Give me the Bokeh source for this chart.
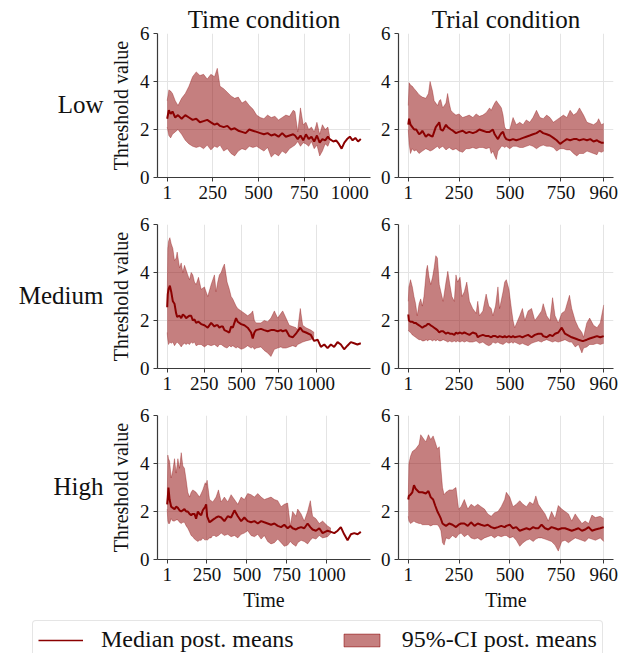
from bokeh.plotting import figure
from bokeh.layouts import column, row
from bokeh.models import Range1d, FixedTicker, Legend, LegendItem, ColumnDataSource
from bokeh.core.properties import value
from bokeh.embed import file_html
from bokeh.resources import INLINE

FONT = "Liberation Serif"
DARK = "#8B0000"

ROW_LABELS = ["Low", "Medium", "High"]
COL_TITLES = ["Time condition", "Trial condition"]
X_LABEL = "Time"
Y_LABEL = "Threshold value"
Y_TICKS = [0, 2, 4, 6]
TIME_TICKS = [1, 250, 500, 750, 1000]
TRIAL_TICKS = [1, 250, 500, 750, 960]

# ---------------- Low / Time condition ----------------
LOW_TIME_T = [1, 10, 20, 30, 45, 60, 80, 100, 120, 140,
              160, 180, 200, 220, 240, 260, 275, 290, 310, 330,
              350, 370, 390, 410, 430, 450, 470, 490, 510, 530,
              550, 570, 590, 610, 630, 650, 670, 690, 700, 715,
              730, 745, 760, 775, 790, 805, 820, 835, 850, 865,
              880, 890, 910, 925, 940, 955, 970, 985, 1000, 1015,
              1030, 1045, 1060]
LOW_TIME_MED = [2.45, 2.8, 2.65, 2.75, 2.5, 2.6, 2.45, 2.6, 2.5, 2.4,
                2.45, 2.3, 2.35, 2.4, 2.3, 2.2, 2.25, 2.15, 2.1, 2.15,
                2.0, 2.05, 1.95, 1.9, 1.85, 2.0, 1.95, 1.9, 1.85, 1.8,
                1.85, 1.75, 1.8, 1.7, 1.85, 1.7, 1.75, 1.8, 1.75, 1.6,
                1.75, 1.55, 1.8, 1.6, 1.7, 1.5, 1.75, 1.45, 1.6, 1.55,
                1.7, 1.6, 1.5, 1.55, 1.4, 1.2, 1.45, 1.6, 1.7, 1.55,
                1.65, 1.5, 1.6]
LOW_TIME_LO = [2.1, 1.75, 1.65, 1.8, 1.9, 2.0, 1.8, 1.55, 1.4, 1.3,
               1.25, 1.3, 1.2, 1.35, 1.15, 1.3, 1.25, 1.35, 1.1, 1.2,
               1.0, 0.9, 1.1, 1.2, 1.15, 1.3, 1.25, 1.3, 1.2, 1.1,
               1.25, 0.85, 1.0, 0.9, 1.1, 1.0, 1.2, 1.3, 1.35, 1.5,
               1.3, 1.45, 1.4, 1.3, 1.5, 1.2, 1.35, 0.9, 1.1, 1.4,
               1.3, 1.5]
LOW_TIME_HI = [3.2, 3.65, 3.6, 3.5, 3.2, 3.0, 3.3, 3.5, 3.8, 4.2,
               4.4, 4.25, 4.3, 4.1, 4.3, 4.2, 4.55, 3.8, 3.7, 3.55,
               3.4, 3.3, 3.35, 3.1, 3.2, 3.0, 2.85, 2.6, 2.5, 2.45,
               2.6, 2.5, 2.55, 2.4, 2.5, 2.6, 2.55, 2.8, 2.75, 1.9,
               2.9, 2.2, 2.3, 2.0, 2.1, 1.9, 2.3, 1.8, 2.2, 2.0,
               2.1, 1.7]

# ---------------- Low / Trial condition ----------------
LOW_TRIAL_T = [1, 5, 12, 21, 30, 40, 54, 62, 70, 87,
               100, 108, 120, 128, 136, 145, 153, 160, 170, 186,
               194, 202, 210, 220, 235, 250, 268, 285, 300, 318,
               334, 350, 367, 383, 400, 408, 416, 425, 433, 441,
               450, 458, 466, 474, 482, 499, 515, 531, 548, 564,
               580, 597, 613, 630, 647, 663, 680, 696, 713, 729,
               746, 762, 779, 795, 812, 828, 841, 861, 878, 894,
               910, 927, 935, 948, 960]
LOW_TRIAL_MED = [2.2, 2.45, 2.2, 2.1, 2.0, 2.0, 1.8, 1.85, 1.95, 1.7,
                 1.8, 1.75, 1.7, 1.9, 2.1, 2.2, 2.3, 2.0, 1.95, 2.2,
                 2.1, 2.05, 2.0, 1.95, 1.85, 1.9, 1.95, 1.85, 1.9, 1.85,
                 1.9, 2.0, 1.95, 1.9, 1.9, 1.95, 2.0, 1.8, 1.7, 1.6,
                 1.75, 1.85, 1.9, 1.7, 1.6, 1.55, 1.6, 1.55, 1.6, 1.65,
                 1.7, 1.75, 1.8, 1.85, 1.95, 1.85, 1.8, 1.75, 1.65, 1.55,
                 1.4, 1.5, 1.6, 1.55, 1.6, 1.6, 1.55, 1.6, 1.55, 1.6,
                 1.5, 1.55, 1.5, 1.45, 1.45]
LOW_TRIAL_LO = [2.0, 1.4, 1.0, 1.2, 1.1, 1.15, 1.0, 1.05, 1.1, 1.2,
                1.15, 1.1, 1.15, 1.2, 1.25, 1.3, 1.2, 1.25, 1.3, 1.15,
                1.2, 1.25, 1.2, 1.15, 1.2, 1.1, 1.05, 1.2, 1.2, 1.25,
                1.2, 1.25, 1.25, 1.2, 1.25, 1.0, 1.1, 0.9, 0.75, 1.1,
                1.2, 1.3, 1.3, 1.25, 1.3, 1.2, 1.3, 1.3, 1.25, 1.25,
                1.3, 1.35, 1.3, 1.2, 1.3, 1.35, 1.3, 1.3, 1.25, 1.1,
                1.2, 1.2, 1.15, 1.15, 1.0, 0.9, 1.0, 1.0, 1.1, 1.05,
                1.0, 0.95, 1.1, 1.05, 1.1]
LOW_TRIAL_HI = [3.0, 3.95, 3.85, 3.8, 3.7, 3.6, 3.45, 3.4, 3.35, 3.3,
                3.5, 4.0, 3.6, 3.2, 3.1, 3.0, 3.2, 3.25, 2.9, 3.1,
                3.5, 3.1, 2.8, 2.7, 2.6, 2.65, 2.5, 2.55, 2.6, 2.5,
                2.65, 2.55, 2.6, 2.7, 2.9, 2.8, 2.95, 3.1, 3.2, 3.1,
                3.0, 2.9, 2.6, 2.1, 2.0, 2.0, 2.5, 2.2, 2.3, 2.2,
                2.4, 2.3, 2.5, 2.8, 2.5, 2.45, 2.6, 2.5, 2.3, 2.4,
                2.5, 2.6, 2.5, 2.8, 2.6, 2.7, 2.9, 2.6, 2.3, 2.25,
                2.2, 2.3, 2.45, 2.2, 2.25]

# ---------------- Medium / Time condition ----------------
MED_TIME_T = [1, 5, 10, 19, 28, 39, 50, 61, 68, 84,
              95, 106, 117, 128, 139, 151, 162, 173, 184, 195,
              211, 229, 251, 273, 296, 318, 329, 340, 351, 363,
              374, 385, 403, 418, 430, 441, 452, 463, 474, 497,
              519, 541, 564, 575, 586, 597, 630, 652, 675, 697,
              720, 742, 764, 776, 798, 820, 843, 865, 876, 894,
              910, 932, 965, 987, 1010, 1032, 1055, 1077, 1099, 1121,
              1144, 1166, 1188, 1210, 1233, 1255, 1277, 1300]
MED_TIME_MED = [2.55, 3.1, 3.3, 3.45, 3.2, 2.8, 2.7, 2.3, 2.15, 2.2,
                2.1, 2.25, 2.2, 2.1, 2.15, 2.2, 2.2, 2.0, 2.05, 1.9,
                1.95, 1.85, 1.8, 1.7, 1.9, 1.75, 1.8, 1.8, 1.7, 1.75,
                1.75, 1.6, 1.55, 1.5, 1.75, 1.7, 1.9, 2.1, 1.95, 1.85,
                1.8, 1.7, 1.5, 1.25, 1.5, 1.6, 1.65, 1.6, 1.55, 1.6,
                1.6, 1.55, 1.6, 1.55, 1.6, 1.35, 1.3, 1.45, 1.55, 1.7,
                1.55, 1.5, 1.4, 1.15, 1.2, 0.9, 1.0, 0.85, 1.0, 0.9,
                1.1, 1.0, 0.8, 0.95, 1.1, 1.05, 1.0, 1.05]
MED_TIME_LO = [1.5, 1.2, 1.0, 1.1, 1.05, 1.1, 0.95, 1.05, 1.1, 1.0,
               0.9, 1.0, 1.05, 1.0, 1.05, 1.0, 1.1, 1.05, 1.1, 0.95,
               1.0, 1.0, 0.9, 1.0, 0.95, 1.0, 0.95, 0.9, 1.0, 1.0,
               0.95, 0.9, 0.85, 0.95, 0.9, 0.95, 0.9, 0.85, 0.9, 0.8,
               0.85, 0.95, 0.85, 0.9, 0.8, 0.85, 0.9, 0.75, 0.65, 0.5,
               0.8, 0.85, 0.9, 0.85, 0.85, 0.9, 0.95, 0.9, 1.0, 1.05,
               1.1, 1.15, 1.2, 1.3]
MED_TIME_HI = [2.6, 5.0, 5.3, 5.45, 5.2, 5.0, 4.5, 4.6, 4.85, 4.2,
               4.4, 4.0, 4.3, 4.1, 3.9, 3.7, 4.0, 3.9, 3.6, 3.5,
               3.8, 3.3, 3.4, 3.0, 3.5, 3.9, 3.2, 3.6, 3.9, 4.0,
               4.2, 4.35, 3.6, 3.3, 3.0, 2.9, 2.75, 2.6, 2.5, 2.4,
               2.3, 2.2, 2.3, 2.4, 2.0, 1.9, 1.9, 2.0, 1.95, 2.1,
               2.4, 2.1, 2.3, 2.4, 2.1, 1.8, 1.75, 1.7, 1.6, 2.5,
               1.8, 1.7, 1.6, 1.5]

# ---------------- Medium / Trial condition ----------------
MED_TRIAL_T = [1, 4, 12, 21, 29, 37, 45, 54, 62, 70,
               78, 90, 95, 103, 111, 120, 128, 136, 144, 153,
               161, 172, 186, 195, 205, 215, 227, 235, 243, 255,
               265, 276, 288, 301, 317, 334, 342, 350, 367, 383,
               396, 408, 416, 429, 441, 449, 466, 474, 482, 495,
               507, 515, 523, 548, 561, 573, 589, 606, 622, 639,
               655, 663, 680, 696, 709, 721, 737, 754, 770, 792,
               803, 820, 836, 853, 861, 877, 891, 910, 927, 943,
               960]
MED_TRIAL_MED = [2.25, 2.0, 1.95, 1.95, 1.9, 1.9, 1.85, 1.8, 1.75, 1.7,
                 1.75, 1.8, 1.85, 1.85, 1.8, 1.75, 1.7, 1.65, 1.6, 1.5,
                 1.55, 1.55, 1.45, 1.5, 1.45, 1.45, 1.4, 1.5, 1.45, 1.5,
                 1.45, 1.5, 1.45, 1.4, 1.5, 1.45, 1.3, 1.35, 1.4, 1.35,
                 1.35, 1.3, 1.35, 1.35, 1.3, 1.35, 1.3, 1.35, 1.3, 1.35,
                 1.3, 1.35, 1.3, 1.35, 1.3, 1.35, 1.4, 1.3, 1.4, 1.45,
                 1.45, 1.35, 1.3, 1.4, 1.35, 1.45, 1.5, 1.7, 1.45, 1.35,
                 1.3, 1.25, 1.2, 1.15, 1.15, 1.2, 1.25, 1.3, 1.35, 1.3,
                 1.35]
MED_TRIAL_LO = [1.6, 1.55, 1.5, 1.4, 1.35, 1.3, 1.25, 1.2, 1.2, 1.15,
                1.15, 1.2, 1.15, 1.2, 1.2, 1.15, 1.2, 1.15, 1.2, 1.15,
                1.15, 1.2, 1.15, 1.1, 1.15, 1.1, 1.15, 1.1, 1.15, 1.1,
                1.15, 1.1, 1.15, 1.1, 1.1, 1.15, 1.1, 1.05, 1.1, 1.0,
                0.95, 1.0, 1.1, 1.05, 1.1, 1.05, 1.0, 1.05, 1.1, 1.05,
                1.1, 1.05, 1.1, 1.0, 1.05, 1.0, 0.95, 1.05, 1.1, 1.15,
                1.1, 1.15, 1.2, 1.15, 1.1, 1.15, 1.1, 1.15, 1.2, 1.1,
                1.1, 0.9, 1.0, 0.65, 0.85, 0.9, 1.0, 1.0, 1.05, 1.0,
                1.05]
MED_TRIAL_HI = [2.8, 3.4, 3.7, 3.4, 3.0, 2.7, 2.2, 2.7, 2.9, 2.6,
                3.0, 4.1, 4.3, 3.8, 3.5, 3.8, 4.2, 4.7, 4.6, 3.5,
                3.2, 2.8, 3.6, 4.05, 3.5, 3.0, 2.8, 3.9, 3.6, 3.8,
                3.0, 3.2, 3.6, 2.8, 2.5, 2.3, 2.8, 2.2, 2.4, 3.1,
                2.6, 2.5, 2.2, 2.6, 3.4, 2.5, 3.2, 3.6, 3.7, 3.3,
                2.5, 2.0, 1.7, 2.2, 2.5, 2.0, 2.4, 2.5, 2.0, 2.2,
                2.4, 2.7, 2.2, 2.0, 2.95, 2.2, 1.9, 2.3, 2.4, 3.05,
                2.5, 2.0, 1.7, 1.5, 1.3, 1.9, 2.1, 1.8, 1.7, 1.9,
                2.65]

# ---------------- High / Time condition ----------------
HIGH_TIME_T = [1, 5, 9, 16, 26, 36, 47, 57, 68, 78,
               89, 99, 109, 120, 130, 141, 151, 161, 172, 182,
               193, 203, 214, 224, 239, 245, 251, 266, 276, 286,
               297, 307, 322, 339, 359, 380, 401, 422, 443, 464,
               484, 505, 526, 547, 568, 589, 609, 630, 651, 672,
               693, 714, 734, 755, 772, 786, 807, 818, 839, 859,
               880, 897, 911, 932, 953, 974, 1005, 1026, 1047, 1068,
               1088, 1109, 1130, 1151, 1172, 1193, 1213]
HIGH_TIME_MED = [2.3, 2.6, 3.0, 2.5, 2.2, 2.15, 2.1, 2.2, 2.15, 2.05,
                 2.0, 2.05, 2.1, 2.0, 2.0, 1.9, 1.85, 1.9, 1.9, 1.7,
                 2.0, 1.9, 1.85, 2.05, 2.2, 2.3, 1.8, 1.55, 1.6, 1.65,
                 1.7, 1.75, 1.8, 1.75, 1.6, 1.8, 1.75, 2.05, 1.8, 1.6,
                 1.75, 1.6, 1.55, 1.6, 1.5, 1.6, 1.55, 1.5, 1.45, 1.5,
                 1.4, 1.35, 1.45, 1.3, 1.4, 1.3, 1.25, 1.3, 1.35, 1.3,
                 1.5, 1.35, 1.25, 1.2, 1.3, 1.1, 1.2, 1.15, 1.1, 1.2,
                 1.35, 1.05, 0.8, 1.05, 1.1, 1.05, 1.15]
HIGH_TIME_LO = [2.1, 1.6, 1.5, 1.5, 1.7, 1.6, 1.6, 1.65, 1.65, 1.55,
                1.5, 1.55, 1.55, 1.4, 1.3, 1.15, 1.0, 0.95, 0.85, 0.8,
                0.75, 0.8, 0.8, 0.9, 0.8, 0.85, 0.8, 0.9, 0.9, 1.0,
                1.0, 0.95, 1.0, 1.1, 1.0, 1.05, 0.95, 1.0, 0.9, 1.05,
                1.1, 1.2, 1.0, 0.95, 1.05, 0.85, 1.0, 0.75, 0.65, 0.7,
                0.85, 0.7, 0.55, 0.6, 0.75, 0.65, 0.55, 0.7, 0.8, 0.75,
                0.65, 0.8, 0.9, 0.85, 1.0, 0.9, 0.95, 1.1]
HIGH_TIME_HI = [2.3, 4.35, 4.2, 4.1, 3.4, 3.7, 4.2, 3.6, 4.2, 3.8,
                4.45, 3.9, 3.8, 3.3, 2.8, 2.6, 2.8, 2.9, 2.85, 2.8,
                2.7, 2.6, 2.75, 2.9, 3.2, 3.1, 3.3, 2.5, 2.45, 2.4,
                2.5, 2.6, 2.9, 2.4, 2.6, 2.4, 2.7, 2.5, 2.3, 2.6,
                2.5, 2.75, 2.7, 2.6, 2.75, 2.6, 2.5, 2.55, 2.6, 2.5,
                2.45, 2.2, 2.3, 2.35, 1.4, 2.0, 1.8, 2.1, 1.9, 1.6,
                2.0, 2.45, 1.8, 1.7, 1.5, 1.6, 1.4, 1.3]

# ---------------- High / Trial condition ----------------
HIGH_TRIAL_T = [1, 4, 12, 21, 29, 37, 54, 62, 70, 87,
                100, 111, 123, 133, 144, 153, 161, 169, 177, 186,
                202, 218, 235, 248, 260, 276, 293, 309, 326, 342,
                358, 375, 391, 408, 424, 441, 457, 474, 482, 499,
                515, 531, 548, 564, 581, 597, 614, 627, 639, 655,
                672, 688, 704, 721, 737, 754, 770, 787, 803, 820,
                836, 853, 869, 886, 902, 919, 943, 960]
HIGH_TRIAL_MED = [2.5, 2.65, 2.7, 2.8, 3.1, 2.95, 2.8, 2.8, 2.8, 2.75,
                  2.85, 2.6, 2.5, 2.25, 2.0, 1.85, 1.7, 1.5, 1.45, 1.4,
                  1.5, 1.45, 1.35, 1.45, 1.5, 1.5, 1.4, 1.55, 1.4, 1.5,
                  1.45, 1.4, 1.45, 1.35, 1.3, 1.35, 1.4, 1.35, 1.4, 1.45,
                  1.3, 1.35, 1.2, 1.25, 1.3, 1.25, 1.35, 1.3, 1.3, 1.45,
                  1.3, 1.25, 1.35, 1.3, 1.25, 1.3, 1.3, 1.25, 1.2, 1.25,
                  1.3, 1.2, 1.25, 1.35, 1.2, 1.25, 1.3, 1.35]
HIGH_TRIAL_LO = [1.8, 1.6, 1.5, 1.55, 1.6, 1.55, 1.5, 1.5, 1.45, 1.45,
                 1.45, 1.4, 1.45, 1.45, 1.45, 1.35, 1.2, 0.7, 0.6, 0.9,
                 0.85, 1.0, 0.9, 1.05, 1.1, 0.95, 1.05, 0.9, 0.85, 0.9,
                 0.8, 0.9, 0.95, 1.0, 0.9, 1.0, 0.95, 1.0, 1.0, 0.9,
                 0.95, 0.8, 0.55, 0.7, 0.8, 0.85, 0.75, 0.85, 0.9, 0.9,
                 0.85, 0.8, 0.75, 0.6, 0.35, 0.75, 0.8, 0.7, 0.8, 0.9,
                 0.85, 0.8, 0.75, 0.9, 0.85, 0.8, 0.9, 0.75]
HIGH_TRIAL_HI = [2.5, 4.0, 4.3, 4.5, 4.55, 4.6, 4.8, 5.2, 5.1, 4.9,
                 5.2, 5.0, 5.15, 4.9, 4.6, 4.7, 3.8, 3.0, 2.7, 2.8,
                 2.9, 2.9, 3.0, 2.1, 2.2, 2.5, 2.1, 2.3, 2.2, 2.3,
                 2.2, 2.1, 1.9, 1.8, 1.95, 2.0, 2.2, 2.5, 2.8, 2.6,
                 2.2, 2.3, 2.45, 2.3, 2.2, 2.4, 2.3, 2.65, 2.3, 2.1,
                 1.9, 1.6, 2.0, 1.7, 2.25, 2.1, 2.0, 1.9, 1.6, 1.9,
                 1.7, 1.5, 1.6, 1.5, 1.85, 1.75, 1.8, 1.7]

PANELS = [
    [(LOW_TIME_T, LOW_TIME_MED, LOW_TIME_LO, LOW_TIME_HI, TIME_TICKS),
     (LOW_TRIAL_T, LOW_TRIAL_MED, LOW_TRIAL_LO, LOW_TRIAL_HI, TRIAL_TICKS)],
    [(MED_TIME_T, MED_TIME_MED, MED_TIME_LO, MED_TIME_HI, TIME_TICKS),
     (MED_TRIAL_T, MED_TRIAL_MED, MED_TRIAL_LO, MED_TRIAL_HI, TRIAL_TICKS)],
    [(HIGH_TIME_T, HIGH_TIME_MED, HIGH_TIME_LO, HIGH_TIME_HI, TIME_TICKS),
     (HIGH_TRIAL_T, HIGH_TRIAL_MED, HIGH_TRIAL_LO, HIGH_TRIAL_HI, TRIAL_TICKS)],
]

# ---------------- layout constants (pixels) ----------------
LABEL_W = 106
COL_W = [268, 244]
BORDER_L = [50, 24]
BORDER_R = [4, 5]
FRAME_H = 144
ROW_TOP = [33, 14, 14]
ROW_BOTTOM = [33, 33, 56]
LEGEND_H = 38
AXIS_COLOR = "#3a3a3a"
GRID_COLOR = "#e4e4e4"
TEXT_COLOR = "#111111"


def make_panel(r, c, t, med, lo, hi, ticks):
    assert len(t) == len(med), (r, c, len(t), len(med))
    assert len(lo) == len(hi), (r, c, len(lo), len(hi))
    span = t[-1] - t[0]
    p = figure(width=COL_W[c], height=ROW_TOP[r] + FRAME_H + ROW_BOTTOM[r],
               output_backend="svg", toolbar_location=None,
               x_range=Range1d(t[0] - 0.05 * span, t[-1] + 0.05 * span),
               y_range=Range1d(0, 6),
               min_border_left=BORDER_L[c], min_border_right=BORDER_R[c],
               min_border_top=ROW_TOP[r], min_border_bottom=ROW_BOTTOM[r])
    p.outline_line_color = None
    nb = len(lo)
    band = ColumnDataSource(dict(t=t[:nb], lo=lo, hi=hi))
    p.varea(x="t", y1="lo", y2="hi", source=band, fill_color=DARK, fill_alpha=0.5)
    p.line(x="t", y="hi", source=band, line_color=DARK, line_alpha=0.4, line_width=0.8)
    p.line(x="t", y="lo", source=band, line_color=DARK, line_alpha=0.4, line_width=0.8)
    p.line(x=t, y=med, line_color=DARK, line_width=2)

    p.xaxis.ticker = FixedTicker(ticks=ticks)
    p.yaxis.ticker = FixedTicker(ticks=Y_TICKS)
    p.xgrid.ticker = FixedTicker(ticks=ticks)
    p.ygrid.ticker = FixedTicker(ticks=Y_TICKS)
    p.grid.grid_line_color = GRID_COLOR
    p.grid.grid_line_width = 1
    for ax in (p.xaxis[0], p.yaxis[0]):
        ax.axis_line_color = AXIS_COLOR
        ax.axis_line_width = 1.2
        ax.major_tick_line_color = AXIS_COLOR
        ax.major_tick_out = 4
        ax.major_tick_in = 0
        ax.minor_tick_line_color = None
        ax.major_label_text_font = FONT
        ax.major_label_text_font_size = "19px"
        ax.major_label_text_color = TEXT_COLOR
        ax.axis_label_text_font = FONT
        ax.axis_label_text_font_size = "20px"
        ax.axis_label_text_font_style = "normal"
        ax.axis_label_text_color = TEXT_COLOR
    p.xaxis.major_label_standoff = 4
    p.yaxis.major_label_standoff = 4
    if c == 0:
        p.yaxis.axis_label = Y_LABEL
        p.yaxis.axis_label_standoff = 5
    if r == 2:
        p.xaxis.axis_label = X_LABEL
        p.xaxis.axis_label_standoff = 5
    if r == 0:
        p.title.text = COL_TITLES[c]
        p.title.align = "center"
        p.title.text_font = FONT
        p.title.text_font_size = "25px"
        p.title.text_font_style = "normal"
        p.title.text_color = TEXT_COLOR
        p.title.standoff = 2
    return p


panel_rows = []
for r in range(3):
    panel_rows.append(row(*[make_panel(r, c, *PANELS[r][c]) for c in range(2)]))

# ---------------- row labels strip ----------------
row_heights = [ROW_TOP[r] + FRAME_H + ROW_BOTTOM[r] for r in range(3)]
grid_h = sum(row_heights)
centers = []
acc = 0
for r in range(3):
    centers.append(acc + ROW_TOP[r] + FRAME_H / 2 - 1)
    acc += row_heights[r]
lab = figure(width=LABEL_W, height=grid_h, output_backend="svg", toolbar_location=None,
             x_range=Range1d(0, LABEL_W), y_range=Range1d(grid_h, 0),
             x_axis_type=None, y_axis_type=None,
             min_border_left=0, min_border_right=0, min_border_top=0, min_border_bottom=0)
lab.grid.visible = False
lab.outline_line_color = None
lab.text(x=[LABEL_W - 3] * 3, y=centers, text=ROW_LABELS,
         text_font=value(FONT), text_font_size="25px", text_color=TEXT_COLOR,
         text_align="right", text_baseline="middle")

# ---------------- legend strip ----------------
# The legend glyphs reuse the Low/Time series, kept outside the strip's visible range.
leg = figure(width=LABEL_W + sum(COL_W), height=LEGEND_H, output_backend="svg",
             toolbar_location=None, x_range=Range1d(-3, -2), y_range=Range1d(-3, -2),
             x_axis_type=None, y_axis_type=None,
             min_border_left=27, min_border_right=0, min_border_top=0, min_border_bottom=0)
leg.grid.visible = False
leg.outline_line_color = None
nb0 = len(LOW_TIME_LO)
r_line = leg.line(x=LOW_TIME_T, y=LOW_TIME_MED, line_color=DARK, line_width=1.6)
r_band = leg.quad(left=LOW_TIME_T[:nb0], right=LOW_TIME_T[:nb0], bottom=LOW_TIME_LO,
                  top=LOW_TIME_HI, fill_color=DARK, fill_alpha=0.5,
                  line_color=DARK, line_alpha=0.5, line_width=1)
legend = Legend(items=[LegendItem(label="Median post. means", renderers=[r_line]),
                       LegendItem(label="95%-CI post. means", renderers=[r_band])],
                orientation="horizontal", location="top_left", margin=5, padding=5,
                spacing=45, glyph_width=45, glyph_height=16, label_standoff=18,
                label_text_font=FONT, label_text_font_size="24px", label_text_color=TEXT_COLOR,
                border_line_color="#cccccc", border_line_width=1,
                background_fill_color="white", background_fill_alpha=1)
if "border_radius" in Legend.properties():
    legend.border_radius = 4
leg.add_layout(legend)

layout = column(row(lab, column(*panel_rows)), leg)
open("out.html", "w").write(file_html(layout, INLINE))
